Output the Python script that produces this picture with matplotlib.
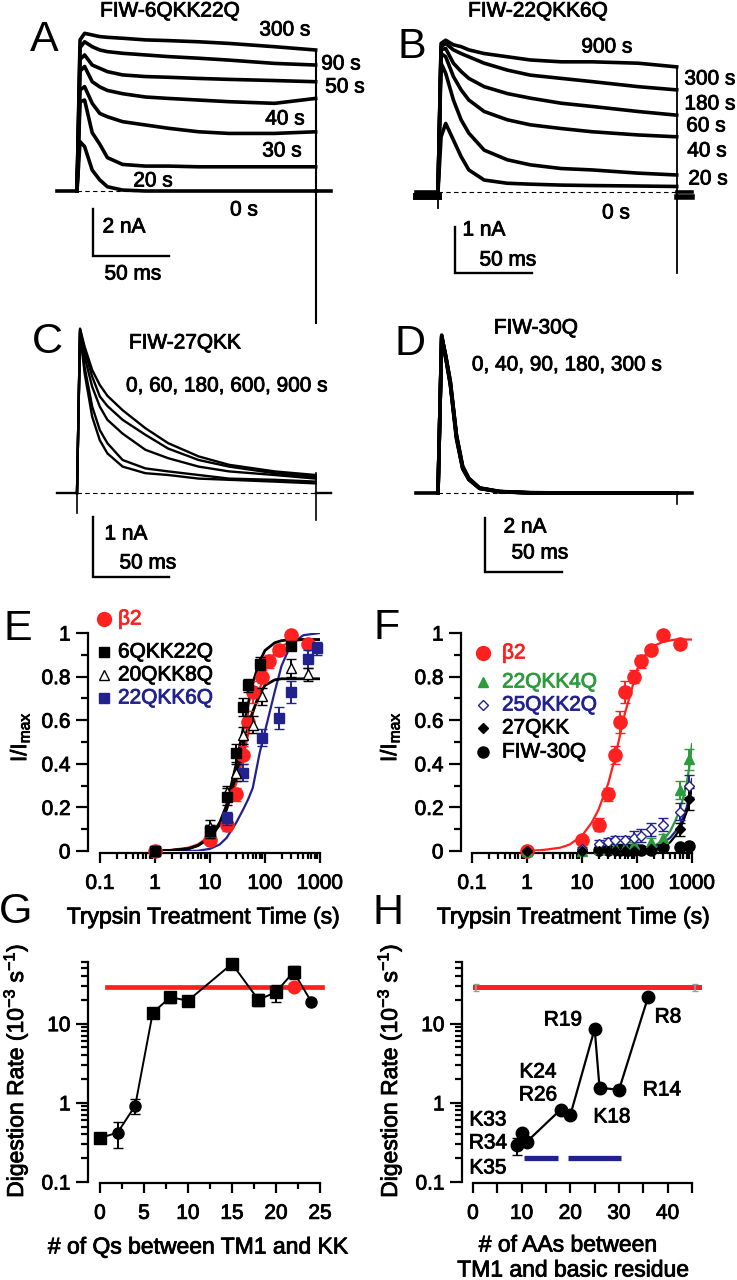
import numpy as np
import matplotlib
matplotlib.use('Agg')
import matplotlib.pyplot as plt
import matplotlib.patheffects as pe
from matplotlib.ticker import FixedLocator, FixedFormatter, LogLocator, NullFormatter

plt.rcParams['font.family'] = ['Liberation Sans', 'DejaVu Sans']
plt.rcParams['mathtext.default'] = 'regular'

W, H = 737, 1280
RED = '#ff2020'
NAVY = '#22228f'
GREEN = '#2b9b3b'

# ---------------- A: FIW-6QKK22Q traces (ms, nA) ----------------
a_time = [0, 2, 5, 10, 15, 20, 30, 45, 60, 80, 100, 130, 157]
a_300s = [0, 6.43, 6.71, 6.64, 6.57, 6.54, 6.50, 6.43, 6.40, 6.35, 6.28, 6.14, 6.00]
a_90s = [0, 6.10, 6.35, 6.14, 6.00, 5.93, 5.86, 5.79, 5.72, 5.65, 5.57, 5.43, 5.36]
a_50s = [0, 5.60, 5.79, 5.36, 5.22, 5.08, 4.94, 4.87, 4.84, 4.79, 4.75, 4.70, 4.65]
a_40s = [0, 5.10, 5.30, 4.65, 4.43, 4.28, 4.14, 4.00, 3.94, 3.87, 3.80, 3.73, 3.94]
a_30s = [0, 4.30, 4.44, 3.73, 3.30, 3.16, 2.95, 2.81, 2.67, 2.52, 2.45, 2.45, 2.52]
a_20s = [0, 3.80, 3.87, 2.48, 1.99, 1.42, 1.13, 1.06, 1.06, 1.03, 1.03, 1.03, 1.03]
a_0s = [0, 2.10, 1.89, 0.89, 0.47, 0.18, 0.04, 0.0, 0.0, 0.0, 0.0, 0.0, 0.0]
a_labels = ['300 s', '90 s', '50 s', '40 s', '30 s', '20 s', '0 s']

# ---------------- B: FIW-22QKK6Q traces ----------------
b_time = [0, 2, 5, 10, 15, 20, 30, 45, 60, 80, 100, 130, 155]
b_900s = [0, 3.23, 3.30, 3.20, 3.16, 3.09, 3.01, 2.94, 2.87, 2.83, 2.83, 2.80, 2.72]
b_300s = [0, 3.16, 3.23, 3.09, 3.01, 2.94, 2.80, 2.65, 2.54, 2.47, 2.40, 2.29, 2.22]
b_180s = [0, 3.09, 3.12, 2.80, 2.62, 2.47, 2.29, 2.14, 2.04, 1.93, 1.86, 1.75, 1.67]
b_60s = [0, 3.01, 2.94, 2.51, 2.22, 2.00, 1.75, 1.57, 1.46, 1.38, 1.31, 1.24, 1.20]
b_40s = [0, 2.80, 2.58, 2.00, 1.57, 1.28, 0.91, 0.70, 0.59, 0.51, 0.48, 0.41, 0.37]
b_20s = [0, 1.20, 1.49, 1.13, 0.77, 0.48, 0.26, 0.19, 0.17, 0.15, 0.14, 0.13, 0.12]
b_labels = ['900 s', '300 s', '180 s', '60 s', '40 s', '20 s', '0 s']

# ---------------- C: FIW-27QKK traces ----------------
c_time = [0, 2, 5, 10, 15, 20, 30, 45, 60, 80, 100, 130, 157]
c_0s = [0, 2.66, 2.00, 1.27, 0.88, 0.66, 0.44, 0.33, 0.30, 0.24, 0.22, 0.19, 0.16]
c_60s = [0, 2.69, 2.10, 1.44, 1.05, 0.83, 0.55, 0.41, 0.36, 0.30, 0.24, 0.22, 0.19]
c_180s = [0, 2.72, 2.27, 1.77, 1.44, 1.22, 0.99, 0.72, 0.58, 0.44, 0.36, 0.30, 0.24]
c_600s = [0, 2.73, 2.38, 1.94, 1.61, 1.45, 1.22, 0.97, 0.74, 0.55, 0.44, 0.33, 0.27]
c_900s = [0, 2.74, 2.44, 2.05, 1.80, 1.62, 1.38, 1.08, 0.83, 0.61, 0.47, 0.36, 0.30]

# ---------------- D: FIW-30Q traces ----------------
d_time = [0, 2.4, 5, 8, 12, 16, 20, 27, 40, 60, 100, 155]
d_0s = [0, 5.85, 5.00, 4.00, 2.00, 0.90, 0.50, 0.17, 0.05, 0.0, 0.0, 0.0]
d_40s = [0, 5.80, 5.05, 4.10, 2.10, 0.95, 0.52, 0.18, 0.05, 0.01, 0.0, 0.0]
d_90s = [0, 5.75, 5.10, 4.15, 2.15, 1.00, 0.55, 0.19, 0.06, 0.01, 0.0, 0.0]
d_180s = [0, 5.78, 5.08, 4.05, 2.05, 0.92, 0.50, 0.17, 0.05, 0.0, 0.0, 0.0]
d_300s = [0, 5.82, 5.02, 4.08, 2.12, 0.97, 0.53, 0.18, 0.05, 0.01, 0.0, 0.0]

# ---------------- E: normalised current vs trypsin time ----------------
t_b2 = [1, 10, 20, 30, 40, 50, 60, 90, 120, 180, 300, 600]
y_b2 = [0.0, 0.05, 0.12, 0.26, 0.44, 0.59, 0.73, 0.80, 0.87, 0.92, 0.99, 0.95]
e_b2 = [0.0, 0.02, 0.03, 0.03, 0.04, 0.05, 0.05, 0.03, 0.03, 0.02, 0.01, 0.01]
t_6q = [1, 10, 20, 30, 40, 50, 80, 300]
y_6q = [0.0, 0.09, 0.25, 0.45, 0.66, 0.76, 0.86, 0.94]
e_6q = [0.0, 0.03, 0.04, 0.04, 0.04, 0.03, 0.03, 0.02]
t_20q = [1, 10, 20, 30, 40, 60, 90, 300, 600]
y_20q = [0.0, 0.11, 0.27, 0.36, 0.53, 0.58, 0.71, 0.84, 0.81]
e_20q = [0.0, 0.03, 0.03, 0.04, 0.04, 0.04, 0.04, 0.04, 0.03]
t_22q = [1, 10, 20, 40, 90, 180, 300, 600, 900]
y_22q = [0.0, 0.09, 0.15, 0.36, 0.52, 0.61, 0.73, 0.88, 0.93]
e_22q = [0.0, 0.03, 0.03, 0.04, 0.04, 0.05, 0.05, 0.04, 0.03]

fit_t = [1, 2, 4, 6, 10, 15, 20, 30, 40, 50, 60, 80, 100, 150, 200, 300, 500, 1000]
fit_b2 = [0, 0.005, 0.015, 0.03, 0.07, 0.13, 0.19, 0.31, 0.43, 0.54, 0.63, 0.74, 0.83, 0.91, 0.94, 0.96, 0.97, 0.97]
fit_6q = [0, 0.003, 0.01, 0.025, 0.06, 0.13, 0.21, 0.40, 0.56, 0.68, 0.77, 0.87, 0.92, 0.955, 0.965, 0.97, 0.97, 0.97]
fit_20q = [0, 0.003, 0.01, 0.025, 0.06, 0.12, 0.19, 0.35, 0.48, 0.58, 0.64, 0.72, 0.76, 0.785, 0.79, 0.79, 0.79, 0.79]
fit_22q = [0, 0, 0, 0.001, 0.01, 0.03, 0.06, 0.13, 0.19, 0.24, 0.29, 0.45, 0.55, 0.73, 0.85, 0.95, 0.99, 1.0]
e_names = ['β2', '6QKK22Q', '20QKK8Q', '22QKK6Q']

# ---------------- F ----------------
t_4q = [1, 10, 20, 30, 40, 60, 90, 180, 300, 600, 900]
y_4q = [0, 0, 0.01, 0.01, 0.02, 0.02, 0.03, 0.04, 0.06, 0.28, 0.42]
e_4q = [0, 0, 0.01, 0.01, 0.01, 0.01, 0.01, 0.02, 0.02, 0.04, 0.05]
t_25q = [1, 10, 20, 30, 40, 60, 90, 120, 180, 300, 600, 900]
y_25q = [0, 0.01, 0.03, 0.04, 0.05, 0.05, 0.06, 0.07, 0.10, 0.12, 0.18, 0.30]
e_25q = [0, 0.01, 0.02, 0.02, 0.02, 0.02, 0.03, 0.03, 0.03, 0.03, 0.04, 0.05]
t_27q = [1, 10, 20, 30, 40, 60, 90, 180, 300, 600, 900]
y_27q = [0, 0, 0, 0, 0, 0, 0, 0.01, 0.02, 0.10, 0.24]
e_27q = [0, 0, 0, 0, 0, 0, 0, 0.01, 0.01, 0.03, 0.05]
t_30q = [1, 20, 30, 50, 70, 120, 180, 300, 600, 900]
y_30q = [0, 0.005, 0.005, 0.005, 0.005, 0.005, 0.005, 0.02, 0.02, 0.025]

fit_4q_t = [100, 150, 200, 300, 400, 500, 600, 700, 800, 900, 1000]
fit_4q = [0, 0.005, 0.02, 0.05, 0.09, 0.14, 0.19, 0.25, 0.31, 0.39, 0.49]
fit_25q_t = [100, 200, 300, 400, 500, 600, 700, 800, 900, 1000]
fit_25q = [0.0, 0.02, 0.04, 0.06, 0.09, 0.12, 0.16, 0.20, 0.26, 0.33]
fit_27q_t = [150, 200, 300, 400, 500, 600, 700, 800, 900, 1000]
fit_27q = [0, 0.005, 0.02, 0.04, 0.07, 0.10, 0.14, 0.18, 0.23, 0.29]
f_names = ['β2', '22QKK4Q', '25QKK2Q', '27QKK', 'FIW-30Q']

# ---------------- G: digestion rate vs number of Qs ----------------
q_count = [0, 2, 4, 6, 8, 10, 15, 18, 20, 22, 24]
g_rate = [0.36, 0.42, 0.92, 13.8, 21.5, 19.5, 57, 20, 25, 45, 19]
g_err = [0.04, 0.15, 0.2, 1.5, 3.5, 3.0, 6.0, 3.5, 6.0, 8.0, 1.5]
g_marker = ['s', 'o', 'o', 's', 's', 's', 's', 's', 's', 's', 'o']
b2_q = 22
b2_rate = 29.0
b2_rate_err = 3.0

# ---------------- H: digestion rate vs position of basic residue ----------------
aa_count = [9, 10, 11, 18, 20, 25, 26, 30, 36]
h_rate = [0.29, 0.42, 0.32, 0.82, 0.70, 8.6, 1.55, 1.46, 21.9]
h_err = [0.07, 0.04, 0.03, 0.05, 0.05, 0.8, 0.1, 0.1, 1.5]
residue = ['K35', 'R34', 'K33', 'R26', 'K24', 'R19', 'K18', 'R14', 'R8']
seg_start = [10.5, 19.5]
seg_end = [17.5, 30.5]
seg_level = 0.2


fig = plt.figure(figsize=(W / 100, H / 100), dpi=100)
HEAVY = [pe.withStroke(linewidth=0.6, foreground='k')]


def box(x0, y0, x1, y1):
    return [x0 / W, 1 - y1 / H, (x1 - x0) / W, (y1 - y0) / H]


def trace_panel(bounds, origin, ms_px, na_px):
    x0, y0, x1, y1 = bounds
    ax = fig.add_axes(box(*bounds))
    ax.axis('off')
    ax.set_xlim((x0 - origin[0]) / ms_px, (x1 - origin[0]) / ms_px)
    ax.set_ylim((origin[1] - y1) / na_px, (origin[1] - y0) / na_px)
    return ax


def draw_traces(ax, t, traces, lw, pre=13, post=10):
    for cur in traces:
        ax.plot(t, cur, color='k', lw=lw, solid_joinstyle='round')
    t_end = t[-1]
    ax.plot([-pre, 0], [0, 0], color='k', lw=lw)
    ax.plot([t_end, t_end + post], [0, 0], color='k', lw=lw)
    ax.plot([0, t_end], [0, 0], color='k', lw=0.8, dashes=(4, 3))


def scale_bar(ax, x, y, ms, na):
    ax.plot([x, x, x + ms], [y + na, y, y], color='k', lw=1.7,
            solid_joinstyle='miter', clip_on=False)


# ---- A ----
axA = trace_panel((40, 15, 345, 335), (77, 191), 1.52, 23.5)
draw_traces(axA, a_time, [a_300s, a_90s, a_50s, a_40s, a_30s, a_20s, a_0s], 2.6)
axA.plot([a_time[-1]] * 2, [max(a_300s[-1], 0), -5.6], color='k', lw=1.5)
scale_bar(axA, 10.5, -2.77, 50, 2)

# ---- B ----
axB = trace_panel((405, 15, 737, 300), (438, 192), 1.54, 46)
draw_traces(axB, b_time, [b_900s, b_300s, b_180s, b_60s, b_40s, b_20s], 2.6, pre=14)
axB.plot([-14, 0], [-0.08, -0.08], color='k', lw=5)
axB.plot([b_time[-1], b_time[-1] + 10], [-0.1, -0.1], color='k', lw=4)
axB.plot([b_time[-1]] * 2, [b_900s[-1], -1.76], color='k', lw=1.3)
axB.plot([0, 0], [0, -0.35], color='k', lw=1.3)
scale_bar(axB, 11, -1.76, 50, 1)

# ---- C ----
axC = trace_panel((40, 300, 345, 600), (77, 493), 1.52, 60)
draw_traces(axC, c_time, [c_0s, c_60s, c_180s, c_600s, c_900s], 1.7)
axC.plot([0, 0], [0, -0.33], color='k', lw=1.2)
axC.plot([c_time[-1]] * 2, [0.33, -0.45], color='k', lw=1.2)
scale_bar(axC, 10.5, -1.4, 50, 1)

# ---- D ----
axD = trace_panel((405, 300, 737, 600), (438, 493), 1.54, 27)
draw_traces(axD, d_time, [d_0s, d_40s, d_90s, d_180s, d_300s], 2.6, pre=14)
axD.plot([d_time[-1]] * 2, [0, -0.4], color='k', lw=1.2)
scale_bar(axD, 30.5, -2.93, 50, 2)


def data_panel(bounds, left_gap, bottom_gap):
    ax = fig.add_axes(box(*bounds))
    ax.patch.set_visible(False)
    for side in ('top', 'right'):
        ax.spines[side].set_visible(False)
    ax.spines['left'].set_position(('outward', left_gap * 0.72))
    ax.spines['bottom'].set_position(('outward', bottom_gap * 0.72))
    for side in ('left', 'bottom'):
        ax.spines[side].set_linewidth(1.6)
    ax.tick_params(which='both', direction='out', width=1.6, labelsize=15)
    ax.tick_params(axis='y', which='major', length=8.5, pad=4)
    ax.tick_params(axis='y', which='minor', length=5)
    ax.tick_params(axis='x', which='major', length=7, pad=8)
    ax.tick_params(axis='x', which='minor', length=4.5)
    return ax


def heavy_ticks(ax):
    for lab in ax.get_xticklabels() + ax.get_yticklabels():
        lab.set_path_effects(HEAVY)


def time_axes(ax):
    ax.set_xscale('log')
    ax.set_xlim(0.1, 1000)
    ax.set_ylim(0, 1)
    ax.xaxis.set_major_locator(FixedLocator([0.1, 1, 10, 100, 1000]))
    ax.xaxis.set_major_formatter(FixedFormatter(['0.1', '1', '10', '100', '1000']))
    ax.xaxis.set_minor_locator(LogLocator(base=10, subs=np.arange(2, 10)))
    ax.xaxis.set_minor_formatter(NullFormatter())
    ax.yaxis.set_major_locator(FixedLocator([0, 0.2, 0.4, 0.6, 0.8, 1.0]))
    ax.yaxis.set_major_formatter(FixedFormatter(['0', '0.2', '0.4', '0.6', '0.8', '1']))
    ax.yaxis.set_minor_locator(FixedLocator([0.1, 0.3, 0.5, 0.7, 0.9]))
    heavy_ticks(ax)


def pts(ax, x, y, err, fmt, fc, ec, ms, z=3):
    ax.errorbar(x, y, yerr=err, fmt=fmt, mfc=fc, mec=ec, ms=ms, ecolor=ec,
                elinewidth=1.4, capsize=3.5, capthick=1.4, mew=1.0,
                clip_on=False, zorder=z)


# ---- E ----
axE = data_panel((100, 633, 320, 851), 12, 2)
time_axes(axE)
axE.plot(fit_t, fit_b2, color=RED, lw=1.6, zorder=2)
axE.plot(fit_t, fit_22q, color=NAVY, lw=1.6, zorder=2)
axE.plot(fit_t, fit_20q, color='k', lw=2.0, zorder=2)
axE.plot(fit_t, fit_6q, color='k', lw=2.0, zorder=2)
pts(axE, t_22q, y_22q, e_22q, 's', NAVY, NAVY, 7)
pts(axE, t_20q, y_20q, e_20q, '^', 'white', 'k', 7)
pts(axE, t_6q, y_6q, e_6q, 's', 'k', 'k', 7)
pts(axE, t_b2, y_b2, e_b2, 'o', RED, RED, 9.5, z=2.5)

# ---- F ----
axF = data_panel((472, 633, 692, 851), 11, 2)
time_axes(axF)
axF.plot(fit_t, fit_b2, color=RED, lw=1.6, zorder=2)
axF.plot(fit_4q_t, fit_4q, color=GREEN, lw=1.6, zorder=2)
axF.plot(fit_25q_t, fit_25q, color=NAVY, lw=1.6, zorder=2)
axF.plot(fit_27q_t, fit_27q, color='k', lw=1.6, zorder=2)
pts(axF, t_b2, y_b2, e_b2, 'o', RED, RED, 9.5)
pts(axF, t_4q, y_4q, e_4q, '^', GREEN, GREEN, 7)
pts(axF, t_25q, y_25q, e_25q, 'D', 'white', NAVY, 5.5)
pts(axF, t_27q, y_27q, e_27q, 'D', 'k', 'k', 5.5)
axF.plot(t_30q, y_30q, 'o', color='k', ms=8, clip_on=False, zorder=3)


def rate_axes(ax):
    ax.set_yscale('log')
    ax.set_ylim(0.1, 60)
    ax.yaxis.set_major_locator(FixedLocator([0.1, 1, 10]))
    ax.yaxis.set_major_formatter(FixedFormatter(['0.1', '1', '10']))
    ax.yaxis.set_minor_locator(LogLocator(base=10, subs=np.arange(2, 10)))
    ax.yaxis.set_minor_formatter(NullFormatter())


# ---- G ----
axG = data_panel((100, 962, 320, 1182), 12, 1)
rate_axes(axG)
axG.set_xlim(0, 25)
axG.xaxis.set_major_locator(FixedLocator([0, 5, 10, 15, 20, 25]))
axG.xaxis.set_minor_locator(FixedLocator([2.5, 7.5, 12.5, 17.5, 22.5]))
heavy_ticks(axG)
axG.axhline(b2_rate, xmin=0.03, xmax=1.01, color=RED, lw=3.4, zorder=1, clip_on=False)
axG.plot(q_count, g_rate, color='k', lw=1.4, zorder=2)
for q, r, e, m in zip(q_count, g_rate, g_err, g_marker):
    pts(axG, [q], [r], [e], m, 'k', 'k', 8)
pts(axG, [b2_q], [b2_rate], [b2_rate_err], 'o', RED, RED, 9, z=4)

# ---- H ----
axH = data_panel((473, 962, 692, 1182), 11, 1)
rate_axes(axH)
axH.set_xlim(0, 45)
axH.xaxis.set_major_locator(FixedLocator([0, 10, 20, 30, 40]))
axH.xaxis.set_minor_locator(FixedLocator([5, 15, 25, 35, 45]))
axH.tick_params(axis='x', which='minor', length=7)
heavy_ticks(axH)
axH.axhline(b2_rate, xmin=0.01, xmax=1.03, color=RED, lw=3.6, zorder=1, clip_on=False)
axH.errorbar([0.6, 45.6], [b2_rate] * 2, yerr=b2_rate_err, fmt='none', ecolor='#999999',
             elinewidth=1.2, capsize=2, clip_on=False, zorder=1)
axH.hlines([seg_level] * len(seg_start), seg_start, seg_end, color=NAVY, lw=3.8)
axH.plot(aa_count, h_rate, color='k', lw=1.6, zorder=2)
pts(axH, aa_count, h_rate, h_err, 'o', 'k', 'k', 9)

# ---------------- overlay: labels in pixel coordinates ----------------
ov = fig.add_axes([0, 0, 1, 1])
ov.set_xlim(0, W)
ov.set_ylim(H, 0)
ov.axis('off')


def txt(x, y, s, size=15, ha='center', color='k', heavy=True, **kw):
    t = ov.text(x, y, s, fontsize=size, ha=ha, va='center', color=color, **kw)
    if heavy:
        t.set_path_effects([pe.withStroke(linewidth=0.6, foreground=color)])


for letter, (x, y) in zip('ABCDEFGH', [(44, 40), (412, 47), (47, 342), (410, 344),
                                       (18, 629), (387, 628), (16, 912), (388, 913)]):
    txt(x, y, letter, size=31, heavy=False)

txt(170, 11, 'FIW-6QKK22Q')
txt(538, 11, 'FIW-22QKK6Q')
txt(185, 343, 'FIW-27QKK')
txt(536, 328, 'FIW-30Q')
txt(227, 386, '0, 60, 180, 600, 900 s')
txt(567, 365, '0, 40, 90, 180, 300 s')

for s, (x, y) in zip(a_labels, [(285, 30), (341, 64), (345, 87), (285, 119),
                                (282, 151), (153, 181), (244, 210)]):
    txt(x, y, s)
for s, (x, y) in zip(b_labels, [(607, 47), (710, 79), (710, 104), (706, 126),
                                (707, 151), (708, 179), (616, 213)]):
    txt(x, y, s)

txt(124, 227, '2 nA')
txt(133, 274, '50 ms')
txt(484, 230, '1 nA')
txt(508, 260, '50 ms')
txt(126, 534, '1 nA')
txt(148, 563, '50 ms')
txt(525, 527, '2 nA')
txt(540, 553, '50 ms')

# legends
e_style = [('o', RED, RED, 10, RED), ('s', 'k', 'k', 7, 'k'),
           ('^', 'white', 'k', 7, 'k'), ('s', NAVY, NAVY, 7, NAVY)]
for name, y, (m, fc, ec, ms, tc) in zip(e_names, [619, 652, 675, 698], e_style):
    ov.plot([104], [y], m, mfc=fc, mec=ec, ms=ms, mew=1.0)
    txt(118, y, name, ha='left', color=tc)
f_style = [('o', RED, RED, 10, RED), ('^', GREEN, GREEN, 7, GREEN),
           ('D', 'white', NAVY, 5.5, NAVY), ('D', 'k', 'k', 5.5, 'k'),
           ('o', 'k', 'k', 8, 'k')]
for name, y, (m, fc, ec, ms, tc) in zip(f_names, [653, 682, 705, 728, 752], f_style):
    ov.plot([483], [y], m, mfc=fc, mec=ec, ms=ms, mew=1.0)
    txt(502, y, name, ha='left', color=tc)

# axis labels
txt(20, 737, 'I/I$_{max}$', size=16, rotation=90)
txt(390, 737, 'I/I$_{max}$', size=16, rotation=90)
txt(203, 917, 'Trypsin Treatment Time (s)', size=16.5)
txt(573, 917, 'Trypsin Treatment Time (s)', size=16.5)
txt(15, 1071, 'Digestion Rate (10$^{-3}$ s$^{-1}$)', size=16.5, rotation=90)
txt(389, 1071, 'Digestion Rate (10$^{-3}$ s$^{-1}$)', size=16.5, rotation=90)
txt(198, 1247, '# of Qs between TM1 and KK', size=16.5)
txt(568, 1245, '# of AAs between', size=16.5)
txt(573, 1270, 'TM1 and basic residue', size=16.5)

for s, (x, y) in zip(residue, [(488, 1168), (488, 1143), (488, 1120), (538, 1095),
                               (538, 1072), (563, 1020), (612, 1117), (662, 1090),
                               (668, 1017)]):
    txt(x, y, s)

fig.savefig('out.png', dpi=100)
